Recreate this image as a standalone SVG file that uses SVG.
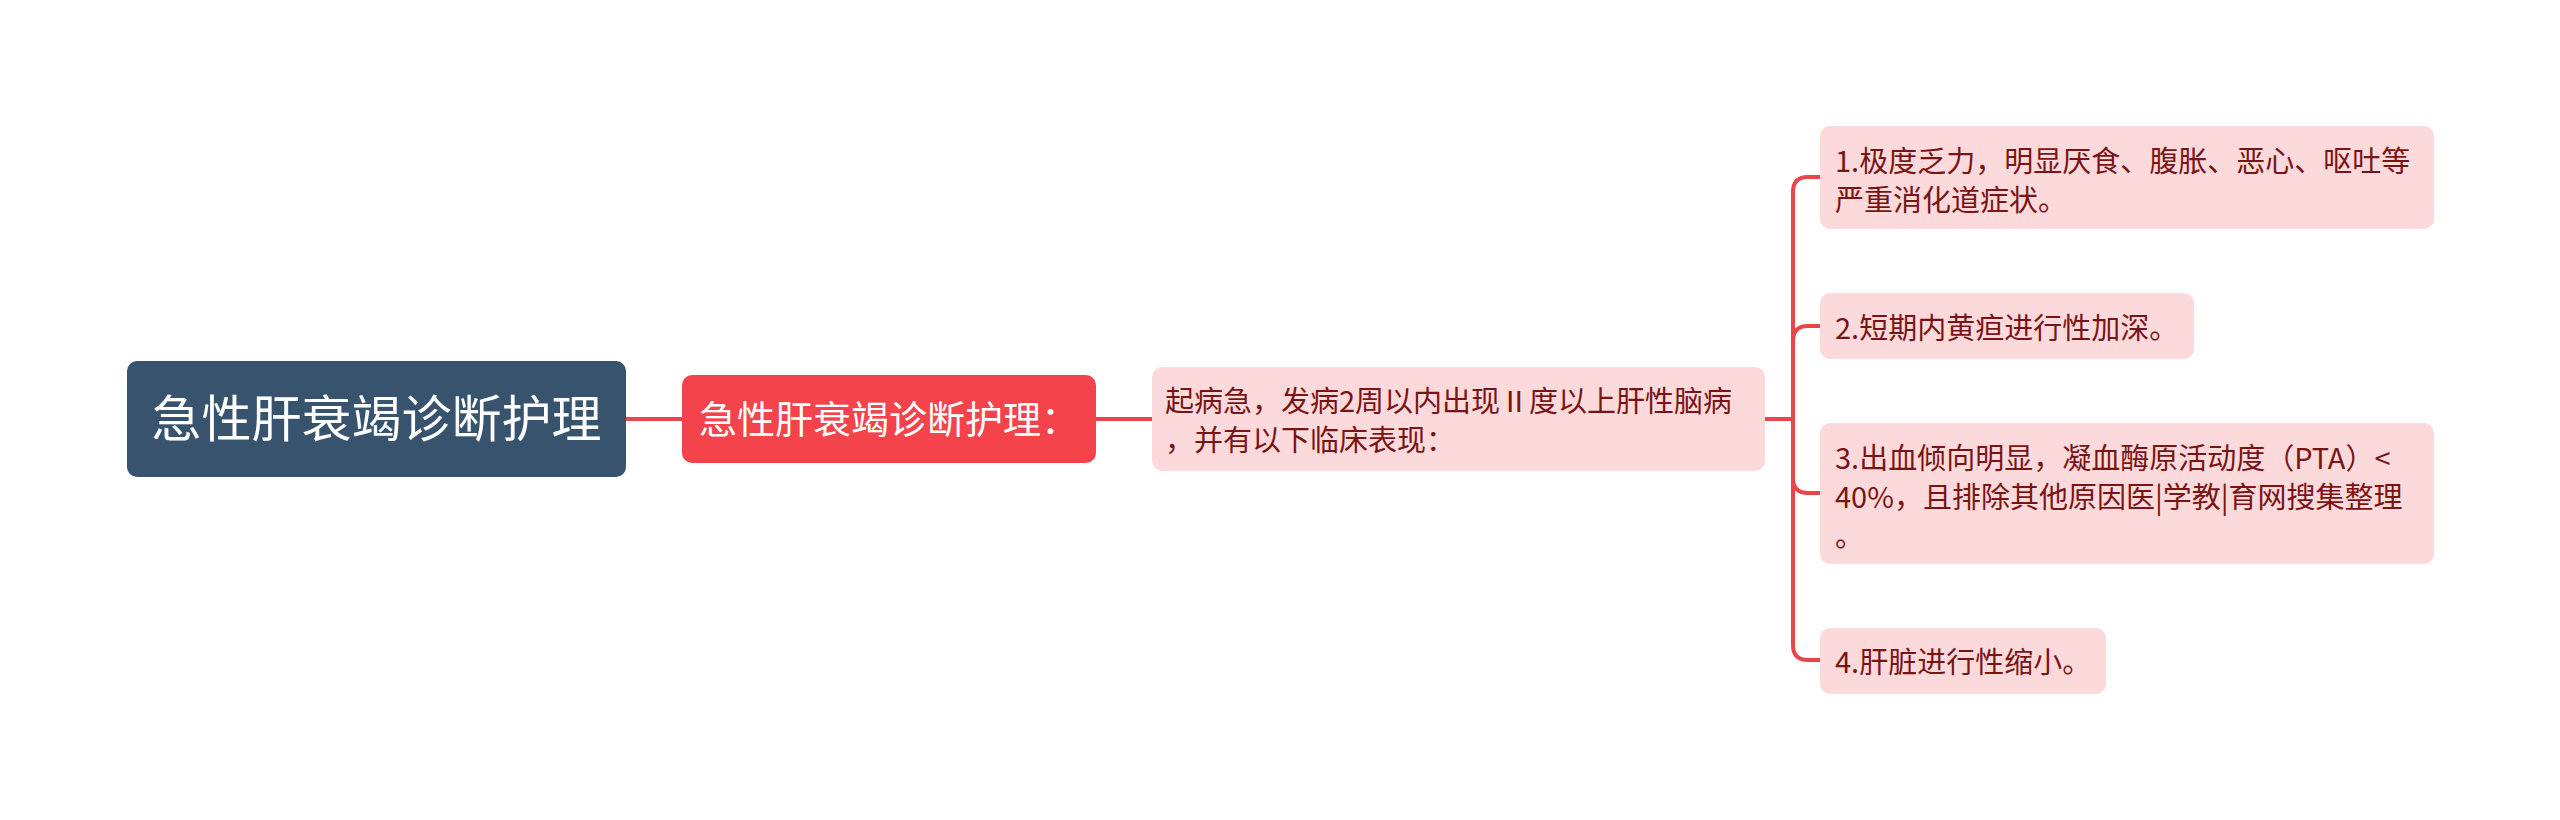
<svg xmlns="http://www.w3.org/2000/svg" width="2560" height="820" viewBox="0 0 2560 820">
<style>
text{font-family:"Noto Sans CJK SC","Noto Sans",sans-serif}
.conn{fill:none;stroke:#e8464b;stroke-width:4;stroke-linecap:round}
.leaf rect{fill:#fcdadb}
.leaf text{fill:#7a1414;font-size:29px}
</style>
<rect x="0" y="0" width="2560" height="820" fill="#ffffff"/>
<g id="connectors">
<path class="conn" d="M626 419 H682"/>
<path class="conn" d="M1096 419 H1152"/>
<path class="conn" d="M1765 419 H1793 V192 Q1793 177 1808 177 H1820"/>
<path class="conn" d="M1765 419 H1793 V341 Q1793 326 1808 326 H1820"/>
<path class="conn" d="M1765 419 H1793 V478 Q1793 493 1808 493 H1820"/>
<path class="conn" d="M1765 419 H1793 V645 Q1793 660 1808 660 H1820"/>
</g>
<g id="root">
<rect x="127" y="361" width="499" height="116" rx="10" fill="#37536e"/>
<text x="376.5" y="437" font-size="50" fill="#ffffff" text-anchor="middle">急性肝衰竭诊断护理</text>
</g>
<g id="main">
<rect x="682" y="375" width="414" height="88" rx="10" fill="#f4434a"/>
<text x="889" y="433" font-size="38" fill="#ffffff" text-anchor="middle">急性肝衰竭诊断护理：</text>
</g>
<g id="sub" class="leaf">
<rect x="1152" y="367" width="613" height="104" rx="10"/>
<text x="1165" y="412">起病急，发病2周以内出现Ⅱ度以上肝性脑病</text>
<text x="1165" y="451">，并有以下临床表现：</text>
</g>
<g id="item1" class="leaf">
<rect x="1820" y="126" width="614" height="103" rx="10"/>
<text x="1835" y="172">1.极度乏力，明显厌食、腹胀、恶心、呕吐等</text>
<text x="1835" y="211">严重消化道症状。</text>
</g>
<g id="item2" class="leaf">
<rect x="1820" y="293" width="374" height="66" rx="10"/>
<text x="1835" y="339">2.短期内黄疸进行性加深。</text>
</g>
<g id="item3" class="leaf">
<rect x="1820" y="423" width="614" height="141" rx="10"/>
<text x="1835" y="469">3.出血倾向明显，凝血酶原活动度（PTA）&lt;</text>
<text x="1835" y="508">40%，且排除其他原因医|学教|育网搜集整理</text>
<text x="1835" y="547">。</text>
</g>
<g id="item4" class="leaf">
<rect x="1820" y="628" width="286" height="66" rx="10"/>
<text x="1835" y="673">4.肝脏进行性缩小。</text>
</g>
</svg>
